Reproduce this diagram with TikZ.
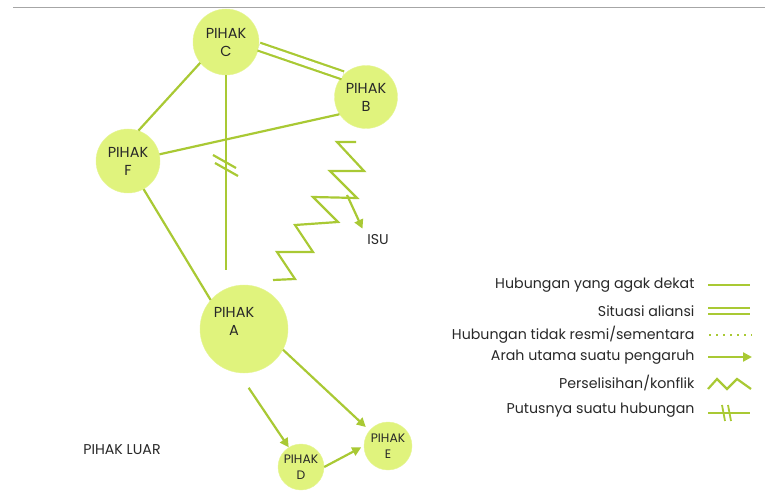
\documentclass[tikz,border=0pt]{standalone}
\usepackage{fontspec}
\setmainfont{Poppins}
\usetikzlibrary{arrows.meta}

\definecolor{pihakfill}{RGB}{224,243,125}
\definecolor{relgreen}{RGB}{169,201,52}
\definecolor{txtgray}{RGB}{40,40,40}

\begin{document}
\begin{tikzpicture}[x=1pt,y=-1pt,
    pihak/.style={circle, fill=pihakfill, draw=pihakfill!80!white, align=center,
      text=txtgray, font=\fontsize{14.5}{18}\selectfont, inner sep=0pt},
    rel/.style={relgreen, line width=2.2pt},
    infl/.style={rel, -{Triangle[length=9pt,width=9pt]}},
    legtext/.style={anchor=east, text=txtgray, font=\fontsize{14.2}{16}\selectfont}]
        \useasboundingbox (0,0) rectangle (765,494);

        % Top rule
        \draw[gray!70, line width=1pt] (13,8) -- (765,8);

        % Parties
        \node[pihak, minimum size=66pt] (C) at (226,42) {PIHAK\\C};
        \node[pihak, minimum size=63pt] (B) at (366,97) {PIHAK\\B};
        \node[pihak, minimum size=64pt] (F) at (128,161) {PIHAK\\F};
        \node[pihak, minimum size=88pt] (A) at (244,329) {};
        \node[text=txtgray, align=center, font=\fontsize{14.5}{18}\selectfont] (A-text) at (234,321) {PIHAK\\A};
        \node[pihak, minimum size=46pt, font=\fontsize{12.3}{16}\selectfont] (D) at (301,467) {PIHAK\\D};
        \node[pihak, minimum size=48pt, font=\fontsize{12.3}{16}\selectfont] (E) at (388,446) {PIHAK\\E};

        % Relations
        \draw[rel] (C.219) -- (F.71);
        \draw[rel] (F.12) -- (B.213);
        \draw[rel] (F.-61) -- (A.139);
        \draw[relgreen, line width=2.2pt, double=white, double distance=6pt] (C.-8) -- (B.137);

        % Broken relation C - A
        \draw[rel, shorten >=15pt] (C.south) -- (C.south |- A.north);
        \draw[rel] (213,155) -- (236,168);
        \draw[rel] (215,163) -- (238,176);

        % Influence
        \draw[infl, shorten <=18pt] (A.-97) -- (D.122);
        \draw[infl, shorten >=5pt] (A.-28) -- (E.140);
        \draw[infl, shorten >=3pt] (D.east) -- (E.west);

        % Conflict over the issue
        \node[text=txtgray, font=\fontsize{14.2}{16}\selectfont] (isu) at (378,240) {ISU};
        \draw[rel, line join=miter] (356,142) -- (337,142) -- (364,171) -- (330,171) -- (357,198)
          -- (313,197) -- (338,222) -- (295,225) -- (313,252) -- (277,252) -- (295,279) -- (273,280);
        \coordinate (zzstart) at (347,195);
        \draw[infl, shorten >=3pt] (zzstart) -- (isu.north west);

        \node[text=txtgray, font=\fontsize{14.2}{16}\selectfont] (luar) at (122,450) {PIHAK LUAR};

        % Legend
        \node[legtext] (leg1) at (698,285) {Hubungan yang agak dekat};
        \draw[rel] (708,285) -- (750,285);
        \node[legtext] (leg2) at (698,311) {Situasi aliansi};
        \draw[relgreen, line width=1.8pt, double=white, double distance=3.5pt] (708,311) -- (750,311);
        \node[legtext] (leg3) at (698,335) {Hubungan tidak resmi/sementara};
        \draw[rel, line width=2pt, dash pattern=on 2pt off 5pt] (709,335) -- (752,335);
        \node[legtext] (leg4) at (698,357) {Arah utama suatu pengaruh};
        \draw[infl] (708,357) -- (752,357);
        \node[legtext] (leg5) at (698,383) {Perselisihan/konflik};
        \draw[rel] (708,389) -- (717,379) -- (727,389) -- (737,379) -- (751,389);
        \node[legtext] (leg6) at (698,410) {Putusnya suatu hubungan};
        \draw[rel] (708,413) -- (750,413);
        \draw[rel, line width=1.8pt] (722,405) -- (725,421);
        \draw[rel, line width=1.8pt] (728,405) -- (731,421);

    \end{tikzpicture}
\end{document}
